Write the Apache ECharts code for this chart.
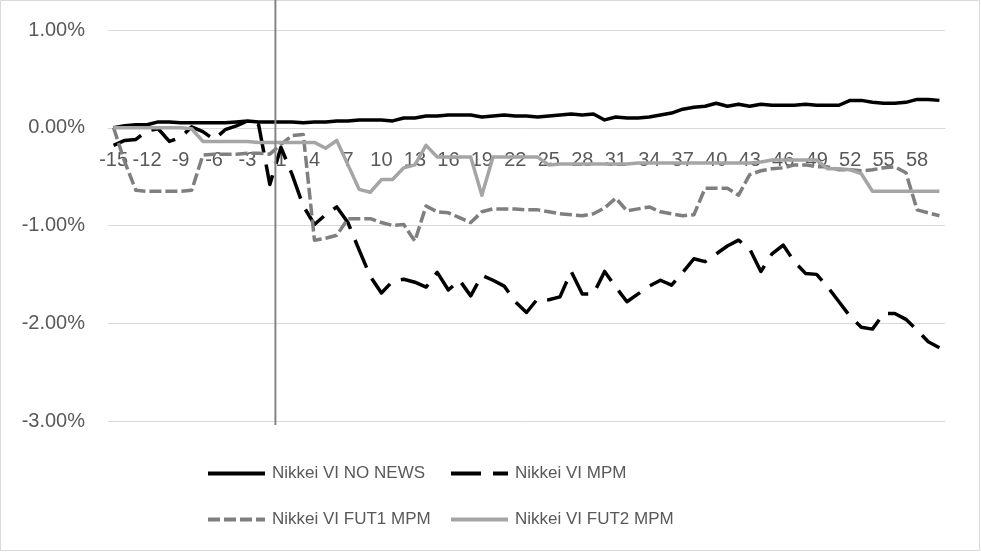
<!DOCTYPE html>
<html>
<head>
<meta charset="utf-8">
<script src="https://cdn.jsdelivr.net/npm/echarts@6/dist/echarts.min.js"></script>
<style>html,body{margin:0;padding:0;background:#fff}#c{width:981px;height:552px}</style>
</head>
<body>
<div id="c"></div>
<script>
// Event-window days (no day 0)
const days = [-15,-14,-13,-12,-11,-10,-9,-8,-7,-6,-5,-4,-3,-2,-1,
  1,2,3,4,5,6,7,8,9,10,11,12,13,14,15,16,17,18,19,20,21,22,23,24,25,26,27,28,29,30,
  31,32,33,34,35,36,37,38,39,40,41,42,43,44,45,46,47,48,49,50,51,52,53,54,55,56,57,58,59,60];

const seriesNames = ['Nikkei VI NO NEWS','Nikkei VI MPM','Nikkei VI FUT1 MPM','Nikkei VI FUT2 MPM'];

// values in percent
const noNews = [0.00,0.02,0.03,0.03,0.06,0.06,0.05,0.05,0.05,0.05,0.05,0.06,0.07,0.06,0.06,
  0.06,0.06,0.05,0.06,0.06,0.07,0.07,0.08,0.08,0.08,0.07,0.10,0.10,0.12,0.12,0.13,0.13,0.13,0.11,0.12,
  0.13,0.12,0.12,0.11,0.12,0.13,0.14,0.13,0.14,0.08,0.11,0.10,0.10,0.11,0.13,0.15,0.19,0.21,0.22,0.25,
  0.22,0.24,0.22,0.24,0.23,0.23,0.23,0.24,0.23,0.23,0.23,0.28,0.28,0.26,0.25,0.25,0.26,0.29,0.29,0.28];

const mpm = [-0.18,-0.13,-0.12,-0.03,-0.01,-0.14,-0.10,0.01,-0.04,-0.12,-0.02,0.02,0.07,0.03,-0.58,
  -0.20,-0.48,-0.80,-0.99,-0.89,-0.81,-0.97,-1.25,-1.52,-1.69,-1.57,-1.55,-1.58,-1.63,-1.48,-1.66,
  -1.56,-1.72,-1.51,-1.56,-1.62,-1.78,-1.89,-1.75,-1.76,-1.73,-1.47,-1.70,-1.70,-1.47,-1.63,-1.78,
  -1.70,-1.62,-1.56,-1.61,-1.48,-1.34,-1.37,-1.29,-1.21,-1.15,-1.24,-1.47,-1.29,-1.20,-1.37,-1.49,
  -1.50,-1.63,-1.78,-1.93,-2.04,-2.06,-1.90,-1.90,-1.96,-2.07,-2.19,-2.25];

const fut1 = [0.00,-0.35,-0.64,-0.65,-0.65,-0.65,-0.65,-0.64,-0.28,-0.27,-0.27,-0.27,-0.26,-0.26,-0.27,
  -0.17,-0.08,-0.07,-1.15,-1.13,-1.10,-0.93,-0.93,-0.93,-0.97,-1.00,-0.99,-1.16,-0.80,-0.86,-0.87,
  -0.92,-0.97,-0.86,-0.83,-0.83,-0.83,-0.84,-0.84,-0.86,-0.88,-0.89,-0.90,-0.88,-0.82,-0.72,-0.85,
  -0.83,-0.81,-0.86,-0.88,-0.90,-0.89,-0.62,-0.62,-0.62,-0.69,-0.48,-0.44,-0.42,-0.41,-0.38,-0.38,
  -0.40,-0.40,-0.43,-0.43,-0.44,-0.43,-0.41,-0.40,-0.46,-0.84,-0.87,-0.90];

const fut2 = [0.00,0.00,0.00,0.00,0.00,0.00,0.00,-0.01,-0.14,-0.14,-0.14,-0.14,-0.14,-0.15,-0.15,
  -0.15,-0.15,-0.15,-0.15,-0.21,-0.13,-0.38,-0.63,-0.66,-0.53,-0.53,-0.41,-0.38,-0.18,-0.30,-0.30,
  -0.30,-0.30,-0.69,-0.30,-0.30,-0.30,-0.30,-0.30,-0.38,-0.37,-0.37,-0.37,-0.37,-0.37,-0.37,-0.37,
  -0.36,-0.36,-0.36,-0.36,-0.36,-0.36,-0.36,-0.36,-0.36,-0.36,-0.36,-0.35,-0.33,-0.33,-0.33,-0.33,
  -0.33,-0.42,-0.42,-0.43,-0.47,-0.65,-0.65,-0.65,-0.65,-0.65,-0.65,-0.65];

// event marker: boundary between day -1 and day 1, spanning these percent values
const eventSpan = [1.31, -3.04];

const yTicks = {min: -3, max: 1, step: 1};

const FONT = 'Liberation Sans';
const TXT = '#595959';
const W = 981, H = 552;
const GRID = {left: 108, right: 36, top: 30, bottom: 131};
const gridH = H - GRID.top - GRID.bottom;
// move the category axis up so it sits on the 0% line
const zeroOffset = -gridH * (0 - yTicks.min) / (yTicks.max - yTicks.min);

const chart = echarts.init(document.getElementById('c'), null, {renderer: 'canvas'});
const eventIdx = days.indexOf(1) - 0.5;

function lineSeries(name, data, color, width, dash) {
  return {
    name, type: 'line', data, symbol: 'none', smooth: false,
    xAxisIndex: 0, yAxisIndex: 0,
    lineStyle: {color, width, type: dash || 'solid', cap: 'butt', join: 'round'},
    itemStyle: {color},
    emphasis: {disabled: true}, z: 3
  };
}

function legendAt(name, left, top) {
  return {
    data: [name], left, top, padding: 0, itemWidth: 57, itemHeight: 14, itemGap: 0,
    itemStyle: {opacity: 0},
    lineStyle: {width: 4},
    textStyle: {color: TXT, fontFamily: FONT, fontSize: 17, padding: [0,0,0,2]},
    selectedMode: false
  };
}

chart.setOption({
  backgroundColor: '#ffffff',
  animation: false,
  grid: Object.assign({containLabel: false}, GRID),
  xAxis: [{
    type: 'category', data: days, boundaryGap: true, position: 'bottom', offset: zeroOffset,
    axisLine: {show: true, onZero: false, lineStyle: {color: '#d9d9d9', width: 1}},
    axisTick: {show: false},
    axisLabel: {interval: 2, color: TXT, fontFamily: FONT, fontSize: 20, margin: 23},
    splitLine: {show: false}
  }, {
    type: 'value', min: -0.5, max: days.length - 0.5, show: false,
    axisLine: {onZero: false}
  }],
  yAxis: [{
    type: 'value', min: yTicks.min, max: yTicks.max, interval: yTicks.step,
    axisLine: {show: false, onZero: false}, axisTick: {show: false},
    axisLabel: {color: TXT, fontFamily: FONT, fontSize: 20, margin: 23,
      formatter: v => v.toFixed(2) + '%'},
    splitLine: {lineStyle: {color: '#d9d9d9', width: 1}}
  }],
  legend: [
    legendAt(seriesNames[0], 206, 465),
    legendAt(seriesNames[1], 449, 465),
    legendAt(seriesNames[2], 206, 511),
    legendAt(seriesNames[3], 449, 511)
  ],
  graphic: [{
    type: 'rect', shape: {x: 0.5, y: 0.5, width: W - 2, height: H - 2},
    style: {fill: 'none', stroke: '#d9d9d9', lineWidth: 1}, silent: true, z: 0
  }],
  series: [
    lineSeries(seriesNames[0], noNews, '#000000', 3.5),
    lineSeries(seriesNames[1], mpm, '#000000', 3.5, [30, 12]),
    lineSeries(seriesNames[2], fut1, '#7f7f7f', 3.5, [12, 4]),
    lineSeries(seriesNames[3], fut2, '#a5a5a5', 3.5),
    {
      name: 'event', type: 'line', xAxisIndex: 1, yAxisIndex: 0,
      data: [[eventIdx, eventSpan[0]], [eventIdx, eventSpan[1]]],
      symbol: 'none', clip: false, silent: true,
      lineStyle: {color: '#858585', width: 2}, z: 5
    }
  ]
});
</script>
</body>
</html>
